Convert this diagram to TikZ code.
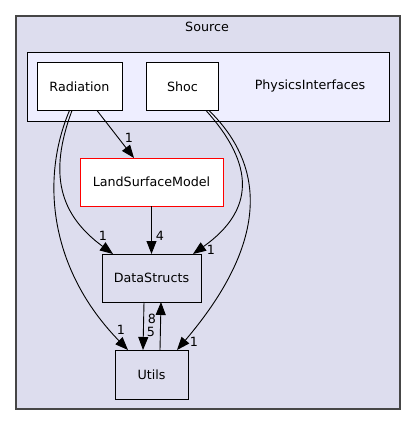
\documentclass[tikz,border=0pt]{standalone}
\usepackage{fontspec}
\setmainfont{DejaVu Sans}
\usetikzlibrary{arrows.meta,calc}
\definecolor{clusterbg}{HTML}{DDDDEE}
\definecolor{innerbg}{HTML}{EEEEFF}
\definecolor{clusterline}{HTML}{464646}
\definecolor{redline}{HTML}{FF0000}
\begin{document}
\begin{tikzpicture}[x=1pt,y=-1pt,
  every node/.style={font=\fontsize{12.7}{15}\selectfont, inner sep=0pt, outer sep=0pt},
  box/.style={draw=black, line width=0.9pt, rectangle},
  dirbox/.style={box, fill=white},
  edge/.style={draw=black, line width=0.9pt, -{Triangle[length=13pt,width=10pt]}},
  elabel/.style={font=\fontsize{12.7}{15}\selectfont}
]
\useasboundingbox (0,0) rectangle (416,425);
\fill[white] (0,0) rectangle (416,425);
% clusters
\node[draw=clusterline, line width=1.2pt, fill=clusterbg, minimum width=384pt, minimum height=393pt] (src) at (208,212.5) {};
\node (srclabel) at (207,27) {Source};
\node[box, fill=innerbg, minimum width=362pt, minimum height=69pt] (phys) at (208,86.5) {};
\node (physlabel) at (310,86) {PhysicsInterfaces};
% nodes
\node[dirbox, minimum width=85pt, minimum height=48pt] (rad) at (79.5,86.5) {Radiation};
\node[dirbox, minimum width=72pt, minimum height=48pt] (shoc) at (182.5,86.5) {Shoc};
\node[dirbox, draw=redline, minimum width=143pt, minimum height=48pt] (lsm) at (151.5,182) {LandSurfaceModel};
\node[box, fill=clusterbg, minimum width=99pt, minimum height=48pt] (ds) at (151.5,278) {DataStructs};
\node[box, fill=clusterbg, minimum width=73pt, minimum height=49pt] (utils) at (151.5,374.5) {Utils};
% edges
\draw[edge] ($(rad.south)+(17.5,0)$) -- ($(lsm.north)+(-17.5,0)$);
\node[elabel] (l1) at (129,138) {1};
\draw[edge] (lsm.south) -- (ds.north);
\node[elabel] (l2) at (160,236) {4};
\draw[edge] ($(rad.south)+(-7.5,0)$) .. controls (48,175) and (60,215) .. ($(ds.north)+(-38.5,0)$);
\node[elabel] (l3) at (103,236) {1};
\draw[edge] ($(rad.south)+(-10,0)$) .. controls (40,180) and (50,270) .. ($(utils.north)+(-23.5,0)$);
\node[elabel] (l4) at (121,330) {1};
\draw[edge] ($(shoc.south)+(23.5,0)$) .. controls (255,165) and (255,210) .. ($(ds.north)+(41.5,0)$);
\node[elabel] (l5) at (211,250) {1};
\draw[edge] ($(shoc.south)+(26.5,0)$) .. controls (275,175) and (258,255) .. ($(utils.north)+(25.5,0)$);
\node[elabel] (l6) at (194,342) {1};
\draw[edge] ($(ds.south)+(-7.5,0)$) -- ($(utils.north)+(-8.5,0)$);
\node[elabel] (l7) at (151,332) {5};
\draw[edge] ($(utils.north)+(8.5,0)$) -- ($(ds.south)+(9.5,0)$);
\node[elabel] (l8) at (152,319) {8};
\end{tikzpicture}
\end{document}
